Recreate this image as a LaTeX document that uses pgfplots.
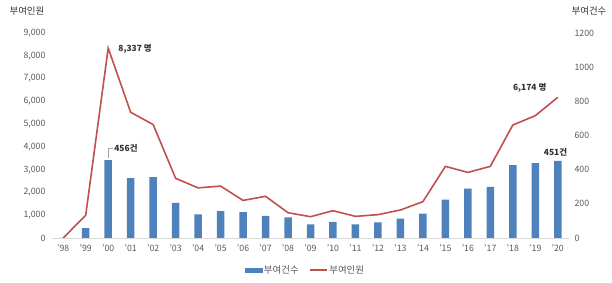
\documentclass[border=0pt]{standalone}
\usepackage{fontspec}
\setmainfont{Noto Sans CJK KR}
\usepackage{pgfplots}
\pgfplotsset{compat=1.18}
\definecolor{barblue}{HTML}{4F81BD}
\definecolor{linered}{HTML}{C0504D}
\definecolor{tickgray}{HTML}{595959}
\definecolor{axgray}{HTML}{D9D9D9}
\begin{document}
\begin{tikzpicture}
\path[use as bounding box] (0,0) rectangle (612bp,283bp);
% bars: right axis
\begin{axis}[
  at={(52bp,45bp)}, anchor=south west, scale only axis,
  width=517bp, height=205bp,
  xmin=-0.5, xmax=22.5, ymin=0, ymax=1200,
  hide x axis,
  axis y line*=right, y axis line style={draw=none},
  ytick={0,200,...,1200}, major tick length=0pt,
  /pgf/number format/1000 sep={}, /pgf/number format/assume math mode=true,
  yticklabel style={font=\fontsize{8.8}{10}\selectfont, color=tickgray, xshift=2bp},
]
\addplot[ybar, bar width=7.5bp, fill=barblue, draw=none] coordinates {
(0,0) (1,58) (2,456) (3,350) (4,357) (5,205) (6,139) (7,158) (8,152) (9,129)
(10,121) (11,80) (12,95) (13,80) (14,92) (15,113) (16,142) (17,224) (18,289)
(19,299) (20,427) (21,439) (22,451)};
\draw[gray!70, line width=0.6bp] (axis cs:2,470) -- (axis cs:2,527) -- (axis cs:2.2,527);
\node[anchor=west, font=\fontsize{8.5}{10}\selectfont\bfseries, text=black!80, inner sep=1bp] at (axis cs:2.22,527) {456건};
\node[font=\fontsize{8.5}{10}\selectfont\bfseries, text=black!80] at (axis cs:21.9,500) {451건};
\end{axis}
% line: left axis
\begin{axis}[
  at={(52bp,45bp)}, anchor=south west, scale only axis,
  width=517bp, height=205bp,
  xmin=-0.5, xmax=22.5, ymin=0, ymax=9000,
  axis x line*=bottom, x axis line style={draw=axgray, line width=0.8bp, -},
  axis y line*=left, y axis line style={draw=none},
  xtick={0,...,22},
  xticklabels={'98,'99,'00,'01,'02,'03,'04,'05,'06,'07,'08,'09,'10,'11,'12,'13,'14,'15,'16,'17,'18,'19,'20},
  ytick={0,1000,...,9000}, major tick length=0pt,
  /pgf/number format/1000 sep={,}, /pgf/number format/assume math mode=true,
  yticklabel style={font=\fontsize{8.8}{10}\selectfont, color=tickgray, xshift=-3bp},
  xticklabel style={font=\fontsize{8.8}{10}\selectfont, color=tickgray, yshift=-3bp},
  legend columns=2,
  legend style={at={(0.49,-0.156)}, anchor=center, draw=none, fill=none,
    font=\fontsize{9.5}{11}\selectfont, text=tickgray,
    /tikz/every even column/.append style={column sep=8bp}},
]
\addlegendimage{legend image code/.code={\fill[barblue] (0cm,-0.07cm) rectangle (0.6cm,0.07cm);}}
\addlegendentry{부여건수}
\addplot[linered, line width=1.6bp, mark=none] coordinates {
(0,0) (1,1000) (2,8337) (3,5520) (4,4980) (5,2620) (6,2200) (7,2280) (8,1650)
(9,1830) (10,1110) (11,935) (12,1200) (13,950) (14,1025) (15,1230) (16,1595)
(17,3145) (18,2880) (19,3145) (20,4960) (21,5370) (22,6174)};
\addlegendentry{부여인원}
\node[anchor=west, font=\fontsize{8.5}{10}\selectfont\bfseries, text=black!80] at (axis cs:2.3,8300) {8,337 명};
\node[font=\fontsize{8.5}{10}\selectfont\bfseries, text=black!80] at (axis cs:20.75,6590) {6,174 명};
\end{axis}
\node[font=\fontsize{9.5}{11}\selectfont, text=black!80] at (27bp,272bp) {부여인원};
\node[font=\fontsize{9.5}{11}\selectfont, text=black!80] at (589bp,272bp) {부여건수};
\end{tikzpicture}
\end{document}
